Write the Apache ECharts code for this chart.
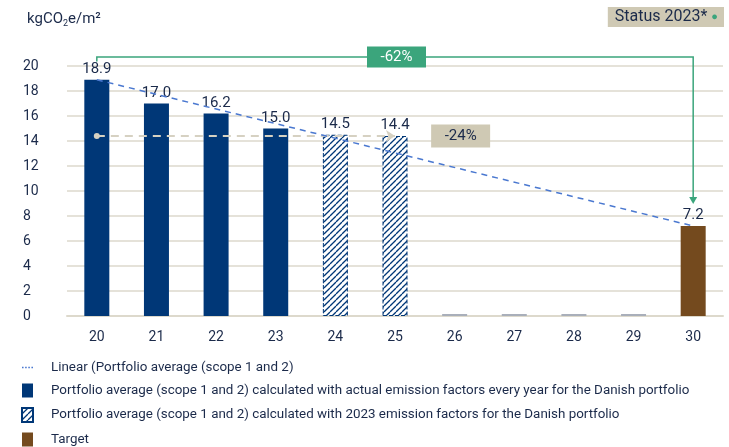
<!DOCTYPE html>
<html>
<head>
<meta charset="utf-8">
<script src="https://cdn.jsdelivr.net/npm/echarts@6/dist/echarts.min.js"></script>
<style>
  html, body { margin: 0; padding: 0; background: #fff; }
  #chart { width: 729px; height: 447px; }
</style>
</head>
<body>
<div id="chart"></div>
<script>
const years = ['20', '21', '22', '23', '24', '25', '26', '27', '28', '29', '30'];
const actual = [18.9, 17.0, 16.2, 15.0, null, null, null, null, null, null, null];
const fixedFactors = [null, null, null, null, 14.5, 14.4, null, null, null, null, null];
const emptyYears = [null, null, null, null, null, null, 0, 0, 0, 0, null];
const target = [null, null, null, null, null, null, null, null, null, null, 7.2];
const linear = [18.9, null, null, null, null, null, null, null, null, null, 7.2];
const yTicks = [0, 2, 4, 6, 8, 10, 12, 14, 16, 18, 20];
// annotation levels
const bracketLevel = 20.72;
const arrowEnd = 8.96;

const NAVY = '#003777';
const TEXT = '#1b2a4a';
const BEIGE = '#cfc9b4';
const GREEN = '#3ba57c';
const BROWN = '#744a1e';
const GRID = '#ddd9cc';

// hatch pattern for the 2023-factor bars
const hatch = document.createElement('canvas');
hatch.width = 6; hatch.height = 6;
(function () {
    const c = hatch.getContext('2d');
    c.fillStyle = '#fff';
    c.fillRect(0, 0, 6, 6);
    c.strokeStyle = NAVY;
    c.lineWidth = 1.3;
    for (const k of [-6, 0, 6]) {
        c.beginPath();
        c.moveTo(k, 6);
        c.lineTo(k + 6, 0);
        c.stroke();
    }
})();
const hatchFill = { image: hatch, repeat: 'repeat' };

const nameLinear = 'Linear (Portfolio average (scope 1 and 2)';
const nameActual = 'Portfolio average (scope 1 and 2) calculated with actual emission factors every year for the Danish portfolio';
const nameFixed = 'Portfolio average (scope 1 and 2) calculated with 2023 emission factors for the Danish portfolio';
const nameTarget = 'Target';

const valueLabel = {
    show: true,
    position: 'top',
    distance: 3,
    color: TEXT,
    fontSize: 15,
    fontFamily: 'Roboto',
    formatter: p => p.value.toFixed(1)
};

const chart = echarts.init(document.getElementById('chart'));
chart.setOption({
    animation: false,
    textStyle: { fontFamily: 'Roboto' },
    title: [{
        left: 22, top: 6,
        text: '{a|kgCO}{s|2}{a|e/m²}',
        textStyle: {
            fontWeight: 'normal',
            rich: {
                a: { fontSize: 15, color: TEXT, fontFamily: 'Roboto' },
                s: { fontSize: 9, color: TEXT, verticalAlign: 'bottom', padding: [8, 0, 0, 0], fontFamily: 'Roboto' }
            }
        }
    }, {
        right: 5, top: 7,
        text: 'Status 2023* {d|●}',
        backgroundColor: BEIGE,
        padding: [2, 6, 2, 7],
        textStyle: {
            fontSize: 16, fontWeight: 'normal', color: TEXT, fontFamily: 'Roboto',
            rich: { d: { color: GREEN, fontSize: 11 } }
        }
    }],
    grid: { left: 67, right: 6, top: 66, bottom: 131 },
    legend: {
        orient: 'vertical',
        left: 21,
        top: 361,
        height: 90,
        padding: 0,
        itemWidth: 11,
        itemHeight: 14,
        itemGap: 9.5,
        selectedMode: false,
        textStyle: {
            color: TEXT, fontSize: 13.4, fontFamily: 'Roboto',
            padding: [0, 0, 0, 13]
        },
        data: [
            { name: nameLinear, icon: 'path://M0,5h2v2h-2z M4,5h2v2h-2z M8,5h2v2h-2z M12,5h2v2h-2z' },
            { name: nameActual, icon: 'rect' },
            { name: nameFixed, icon: 'rect' },
            { name: nameTarget, icon: 'rect' }
        ]
    },
    xAxis: {
        type: 'category',
        data: years,
        axisTick: { show: false },
        axisLine: { lineStyle: { color: GRID, width: 2 } },
        axisLabel: { color: TEXT, fontSize: 14, margin: 14 }
    },
    yAxis: {
        type: 'value',
        min: yTicks[0],
        max: yTicks[yTicks.length - 1],
        interval: 2,
        axisLine: { show: false },
        axisTick: { show: false },
        splitLine: { lineStyle: { color: GRID, width: 1.5 } },
        axisLabel: { color: TEXT, fontSize: 14, align: 'left', margin: 44 }
    },
    series: [{
        name: nameActual,
        type: 'bar',
        data: actual,
        barWidth: 25,
        barGap: '-100%',
        itemStyle: { color: NAVY },
        label: valueLabel
    }, {
        name: nameFixed,
        type: 'bar',
        data: fixedFactors,
        barWidth: 25,
        barGap: '-100%',
        itemStyle: { color: hatchFill, borderColor: NAVY, borderWidth: 1, borderType: 'dashed' },
        label: valueLabel,
        markLine: {
            silent: true,
            lineStyle: { color: '#d6d1c2', type: [8, 6], width: 2 },
            label: { show: false },
            data: [[
                { coord: ['20', 14.4], symbol: 'circle', symbolSize: 6 },
                { coord: ['25', 14.4], symbol: 'arrow', symbolSize: 9 }
            ]]
        },
        markPoint: {
            silent: true,
            data: [{
                coord: ['26', 14.4],
                symbol: 'rect',
                symbolSize: [59, 23],
                symbolOffset: [6, 0],
                itemStyle: { color: BEIGE },
                label: { show: true, formatter: '-24%', color: TEXT, fontSize: 15 }
            }]
        }
    }, {
        name: 'empty',
        type: 'bar',
        data: emptyYears,
        barWidth: 25,
        barGap: '-100%',
        barMinHeight: 2,
        itemStyle: { color: '#a9afba' },
        z: 1
    }, {
        name: nameTarget,
        type: 'bar',
        data: target,
        barWidth: 25,
        barGap: '-100%',
        itemStyle: { color: BROWN },
        label: valueLabel
    }, {
        name: nameLinear,
        type: 'line',
        data: linear,
        connectNulls: true,
        showSymbol: false,
        symbol: 'none',
        color: '#4a78d0',
        lineStyle: { color: '#4a78d0', width: 1.5, type: [6, 5] },
        z: 5
    }]
});

// green -62% bracket, placed through the axis scales
const px = (cat, v) => chart.convertToPixel({ xAxisIndex: 0, yAxisIndex: 0 }, [cat, v]);
const a = px(years[0], bracketLevel);
const a0 = px(years[0], bracketLevel - 0.35);
const b = px(years[10], bracketLevel);
const c = px(years[10], arrowEnd);
const mid = px(years[5], bracketLevel);
chart.setOption({
    graphic: [{
        type: 'polyline',
        z: 10,
        shape: { points: [a0, a, b, [c[0], c[1] - 5]] },
        style: { stroke: GREEN, lineWidth: 1.5, fill: null }
    }, {
        type: 'polygon',
        z: 10,
        shape: { points: [[c[0] - 4, c[1] - 7], [c[0] + 4, c[1] - 7], [c[0], c[1]]] },
        style: { fill: GREEN }
    }, {
        type: 'rect',
        z: 11,
        shape: { x: mid[0] - 28, y: mid[1] - 10.5, width: 59, height: 21 },
        style: { fill: GREEN }
    }, {
        type: 'text',
        z: 12,
        x: mid[0] + 1.5, y: mid[1],
        style: { text: '-62%', fill: '#fff', font: '15px Roboto', align: 'center', verticalAlign: 'middle' }
    }]
});
</script>
</body>
</html>
